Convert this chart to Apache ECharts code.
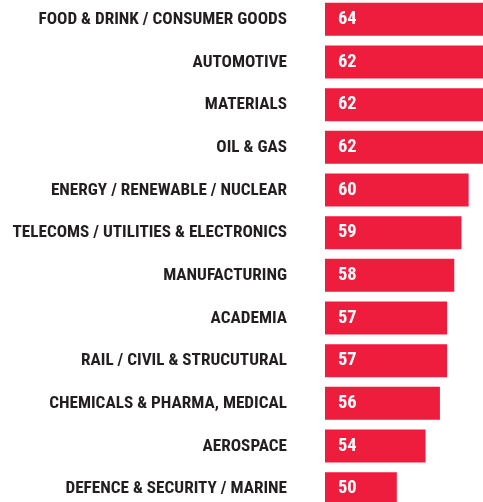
<!DOCTYPE html>
<html>
<head>
<meta charset="utf-8">
<style>
  html, body { margin: 0; padding: 0; background: #ffffff; }
  #chart { width: 483px; height: 502px; }
</style>
<script src="https://cdn.jsdelivr.net/npm/echarts@6/dist/echarts.min.js"></script>
</head>
<body>
<div id="chart"></div>
<script>
// Sectors, listed top to bottom
var sectors = [
  'FOOD & DRINK / CONSUMER GOODS',
  'AUTOMOTIVE',
  'MATERIALS',
  'OIL & GAS',
  'ENERGY / RENEWABLE / NUCLEAR',
  'TELECOMS / UTILITIES & ELECTRONICS',
  'MANUFACTURING',
  'ACADEMIA',
  'RAIL / CIVIL & STRUCUTURAL',
  'CHEMICALS & PHARMA, MEDICAL',
  'AEROSPACE',
  'DEFENCE & SECURITY / MARINE'
];
var scores = [64, 62, 62, 62, 60, 59, 58, 57, 57, 56, 54, 50];

// Condensed bold face: the stretch keyword rides along in the canvas font string
var FONT = 'Roboto, "Open Sans", sans-serif';
var WEIGHT = 'bold condensed';
var RED = '#ee1c3d';

var chart = echarts.init(document.getElementById('chart'), null, { renderer: 'canvas' });
chart.setOption({
  animation: false,
  backgroundColor: '#ffffff',
  grid: {
    left: 325,
    right: 0,
    top: -2,
    bottom: -8,
    outerBoundsMode: 'none'
  },
  xAxis: {
    type: 'value',
    min: 40,
    max: 62,
    show: false
  },
  yAxis: {
    type: 'category',
    inverse: true,
    data: sectors,
    axisLine: { show: false },
    axisTick: { show: false },
    splitLine: { show: false },
    axisLabel: {
      margin: 38,
      color: '#231f20',
      fontFamily: FONT,
      fontWeight: WEIGHT,
      fontSize: 17.2,
      verticalAlign: 'top',
      padding: [-8, 0, 0, 0]
    }
  },
  series: [{
    type: 'bar',
    data: scores,
    barWidth: 33,
    clip: true,
    itemStyle: { color: RED },
    label: {
      show: true,
      position: 'insideLeft',
      distance: 13,
      color: '#ffffff',
      fontFamily: FONT,
      fontWeight: WEIGHT,
      fontSize: 18.5,
      padding: [10, 0, 0, 0]
    }
  }]
});
</script>
</body>
</html>
